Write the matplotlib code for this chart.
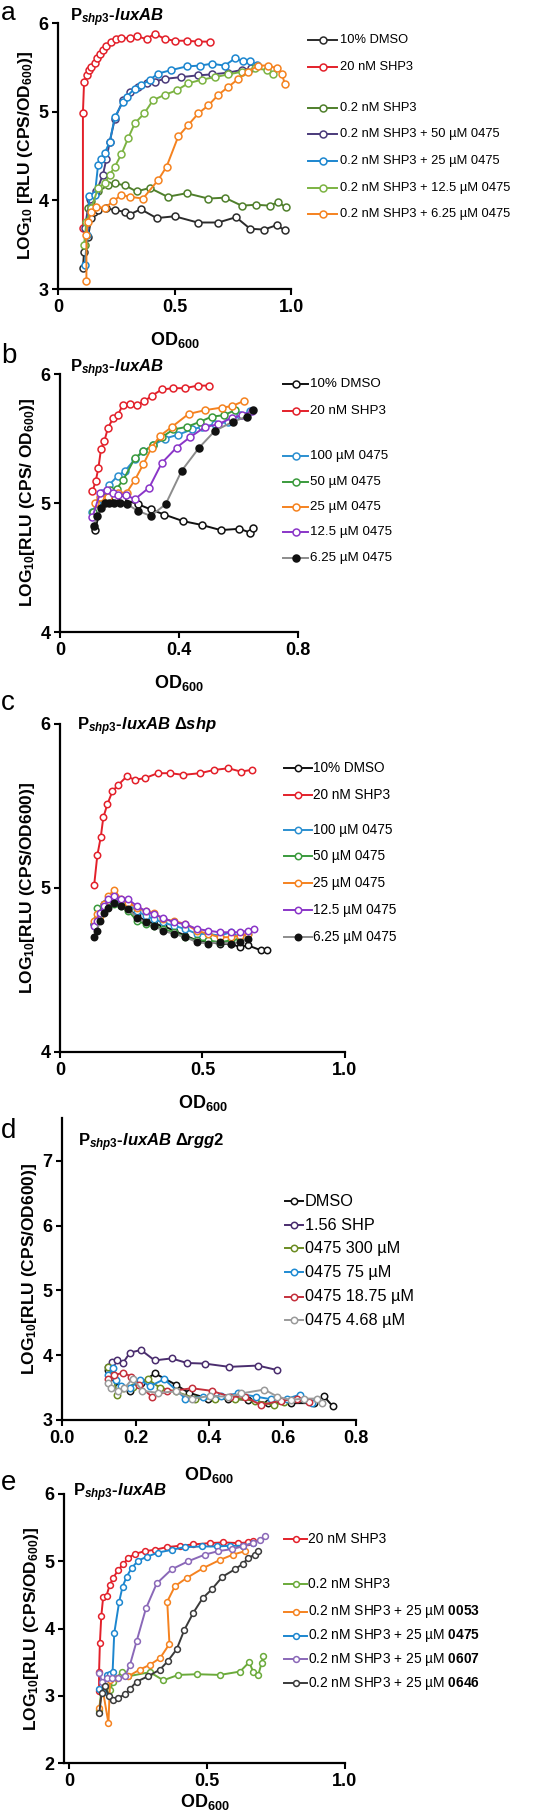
import matplotlib
matplotlib.use("Agg")
import matplotlib.pyplot as plt
from matplotlib.lines import Line2D

plt.rcParams['font.family'] = ['Liberation Sans', 'DejaVu Sans']
plt.rcParams['mathtext.fontset'] = 'custom'
plt.rcParams['mathtext.rm'] = 'Liberation Sans:bold'
plt.rcParams['mathtext.bf'] = 'Liberation Sans:bold'
plt.rcParams['mathtext.it'] = 'Liberation Sans:italic:bold'

W, H = 534, 1814

# ---------------- panel a ----------------
a_dmso_x = [0.107, 0.112, 0.129, 0.143, 0.155, 0.172, 0.208, 0.244, 0.287, 0.308, 0.355, 0.423, 0.501, 0.599, 0.688, 0.764, 0.824, 0.884, 0.938, 0.975]
a_dmso_y = [3.24, 3.42, 3.59, 3.80, 3.87, 3.89, 3.91, 3.89, 3.87, 3.84, 3.90, 3.80, 3.82, 3.75, 3.75, 3.81, 3.68, 3.67, 3.72, 3.66]
a_shp20_x = [0.107, 0.107, 0.112, 0.125, 0.133, 0.143, 0.158, 0.169, 0.179, 0.193, 0.208, 0.226, 0.251, 0.272, 0.308, 0.337, 0.38, 0.415, 0.458, 0.501, 0.552, 0.602, 0.652]
a_shp20_y = [3.69, 4.99, 5.34, 5.41, 5.47, 5.50, 5.55, 5.60, 5.65, 5.70, 5.74, 5.79, 5.82, 5.83, 5.83, 5.85, 5.82, 5.88, 5.82, 5.80, 5.80, 5.79, 5.79]
a_shp02_x = [0.115, 0.129, 0.14, 0.172, 0.215, 0.244, 0.287, 0.337, 0.394, 0.47, 0.552, 0.645, 0.716, 0.788, 0.85, 0.91, 0.946, 0.977]
a_shp02_y = [3.50, 3.91, 3.99, 4.10, 4.17, 4.19, 4.17, 4.10, 4.14, 4.04, 4.08, 4.02, 4.03, 3.94, 3.95, 3.94, 3.98, 3.92]
a_50_x = [0.115, 0.136, 0.165, 0.193, 0.208, 0.222, 0.244, 0.279, 0.308, 0.344, 0.38, 0.415, 0.458, 0.53, 0.602, 0.659, 0.731, 0.788, 0.83]
a_50_y = [3.69, 4.02, 4.10, 4.29, 4.47, 4.66, 4.92, 5.13, 5.22, 5.28, 5.32, 5.34, 5.37, 5.39, 5.41, 5.42, 5.44, 5.47, 5.49]
a_25_x = [0.115, 0.126, 0.135, 0.158, 0.172, 0.186, 0.2, 0.222, 0.244, 0.279, 0.294, 0.33, 0.358, 0.394, 0.43, 0.487, 0.552, 0.609, 0.659, 0.716, 0.759, 0.795, 0.824, 0.852]
a_25_y = [3.27, 3.61, 4.05, 4.06, 4.40, 4.47, 4.53, 4.66, 4.94, 5.11, 5.17, 5.26, 5.30, 5.36, 5.43, 5.47, 5.51, 5.52, 5.54, 5.52, 5.60, 5.57, 5.57, 5.53]
a_12_x = [0.112, 0.122, 0.143, 0.172, 0.2, 0.222, 0.244, 0.272, 0.301, 0.33, 0.37, 0.408, 0.458, 0.509, 0.559, 0.616, 0.673, 0.731, 0.788, 0.845, 0.895, 0.924]
a_12_y = [3.50, 3.76, 3.91, 4.14, 4.19, 4.29, 4.38, 4.52, 4.70, 4.87, 4.98, 5.13, 5.19, 5.24, 5.32, 5.36, 5.39, 5.42, 5.45, 5.49, 5.47, 5.43]
a_6_x = [0.122, 0.122, 0.129, 0.143, 0.165, 0.2, 0.236, 0.272, 0.308, 0.365, 0.43, 0.466, 0.516, 0.559, 0.602, 0.645, 0.688, 0.731, 0.774, 0.817, 0.857, 0.903, 0.938, 0.96, 0.974]
a_6_y = [3.09, 3.61, 3.76, 3.87, 3.93, 3.91, 3.99, 4.06, 4.04, 4.02, 4.23, 4.38, 4.72, 4.85, 4.98, 5.07, 5.19, 5.28, 5.37, 5.45, 5.52, 5.52, 5.49, 5.43, 5.31]
a_labels = ["10% DMSO", "20 nM SHP3", "0.2 nM SHP3", "0.2 nM SHP3 + 50 µM 0475",
            "0.2 nM SHP3 + 25 µM 0475", "0.2 nM SHP3 + 12.5 µM 0475", "0.2 nM SHP3 + 6.25 µM 0475"]

# ---------------- panel b ----------------
b_dmso_x = [0.118, 0.14, 0.16, 0.185, 0.21, 0.263, 0.305, 0.351, 0.413, 0.476, 0.54, 0.603, 0.640, 0.648]
b_dmso_y = [4.79, 5.00, 5.04, 5.05, 5.03, 4.99, 4.95, 4.91, 4.86, 4.83, 4.79, 4.80, 4.77, 4.81]
b_shp20_x = [0.109, 0.12, 0.129, 0.138, 0.149, 0.161, 0.179, 0.194, 0.211, 0.235, 0.258, 0.284, 0.308, 0.342, 0.381, 0.42, 0.463, 0.502]
b_shp20_y = [5.09, 5.17, 5.27, 5.42, 5.48, 5.58, 5.66, 5.68, 5.76, 5.77, 5.76, 5.79, 5.83, 5.88, 5.89, 5.89, 5.91, 5.91]
b_100_x = [0.109, 0.123, 0.14, 0.165, 0.194, 0.219, 0.252, 0.28, 0.314, 0.353, 0.398, 0.443, 0.476, 0.521, 0.566, 0.605, 0.640]
b_100_y = [4.93, 5.00, 5.08, 5.14, 5.21, 5.25, 5.34, 5.40, 5.45, 5.50, 5.53, 5.57, 5.59, 5.61, 5.63, 5.68, 5.71]
b_50_x = [0.112, 0.14, 0.168, 0.19, 0.213, 0.252, 0.28, 0.314, 0.342, 0.381, 0.426, 0.471, 0.51, 0.55, 0.589]
b_50_y = [4.93, 5.05, 5.10, 5.11, 5.18, 5.35, 5.40, 5.45, 5.51, 5.57, 5.59, 5.63, 5.67, 5.68, 5.72]
b_25_x = [0.118, 0.135, 0.163, 0.196, 0.224, 0.252, 0.28, 0.308, 0.336, 0.376, 0.432, 0.488, 0.544, 0.577, 0.617]
b_25_y = [5.00, 5.05, 5.05, 5.08, 5.08, 5.18, 5.30, 5.43, 5.52, 5.59, 5.69, 5.72, 5.74, 5.75, 5.79]
b_12_x = [0.109, 0.135, 0.157, 0.179, 0.196, 0.222, 0.252, 0.30, 0.342, 0.392, 0.437, 0.488, 0.532, 0.577, 0.611, 0.645]
b_12_y = [4.89, 5.08, 5.10, 5.08, 5.06, 5.06, 5.03, 5.12, 5.31, 5.43, 5.51, 5.59, 5.61, 5.66, 5.68, 5.71]
b_6_x = [0.115, 0.123, 0.137, 0.151, 0.165, 0.182, 0.202, 0.226, 0.261, 0.305, 0.355, 0.409, 0.468, 0.521, 0.581, 0.628, 0.65]
b_6_y = [4.82, 4.90, 4.96, 5.00, 5.00, 5.00, 5.00, 4.99, 4.94, 4.90, 4.99, 5.25, 5.43, 5.56, 5.63, 5.67, 5.72]
b_labels = ["10% DMSO", "20 nM SHP3", "100 µM 0475", "50 µM 0475", "25 µM 0475", "12.5 µM 0475", "6.25 µM 0475"]

# ---------------- panel c ----------------
c_shp20_x = [0.12, 0.131, 0.143, 0.152, 0.166, 0.184, 0.205, 0.234, 0.263, 0.298, 0.343, 0.386, 0.433, 0.491, 0.541, 0.591, 0.634, 0.673]
c_shp20_y = [5.02, 5.20, 5.31, 5.43, 5.51, 5.59, 5.63, 5.68, 5.66, 5.67, 5.70, 5.70, 5.69, 5.70, 5.72, 5.73, 5.71, 5.72]
c_dmso_x = [0.12, 0.13, 0.14, 0.155, 0.17, 0.19, 0.215, 0.24, 0.27, 0.30, 0.33, 0.36, 0.40, 0.44, 0.48, 0.52, 0.56, 0.60, 0.63, 0.66, 0.705, 0.725]
c_dmso_y = [4.78, 4.80, 4.85, 4.90, 4.92, 4.91, 4.90, 4.87, 4.83, 4.80, 4.78, 4.77, 4.74, 4.71, 4.68, 4.67, 4.66, 4.66, 4.64, 4.65, 4.62, 4.62]
c_100_x = [0.12, 0.13, 0.14, 0.155, 0.17, 0.19, 0.215, 0.24, 0.27, 0.30, 0.33, 0.36, 0.40, 0.44, 0.48, 0.52, 0.56, 0.60, 0.63, 0.66]
c_100_y = [4.78, 4.82, 4.87, 4.90, 4.92, 4.93, 4.92, 4.90, 4.86, 4.83, 4.81, 4.79, 4.77, 4.75, 4.72, 4.72, 4.71, 4.73, 4.70, 4.72]
c_50_x = [0.12, 0.13, 0.14, 0.155, 0.17, 0.19, 0.215, 0.24, 0.27, 0.30, 0.33, 0.36, 0.40, 0.44, 0.48, 0.52, 0.56, 0.60, 0.63]
c_50_y = [4.78, 4.88, 4.85, 4.88, 4.92, 4.90, 4.89, 4.86, 4.80, 4.78, 4.77, 4.75, 4.73, 4.70, 4.68, 4.68, 4.67, 4.68, 4.69]
c_25_x = [0.12, 0.13, 0.14, 0.155, 0.17, 0.19, 0.215, 0.24, 0.27, 0.30, 0.33, 0.36, 0.40, 0.44, 0.48, 0.52, 0.56, 0.60, 0.63, 0.66]
c_25_y = [4.80, 4.84, 4.83, 4.90, 4.95, 4.99, 4.93, 4.91, 4.88, 4.86, 4.85, 4.81, 4.80, 4.78, 4.74, 4.72, 4.70, 4.70, 4.71, 4.72]
c_12_x = [0.12, 0.13, 0.14, 0.155, 0.17, 0.19, 0.215, 0.24, 0.27, 0.30, 0.33, 0.36, 0.40, 0.44, 0.48, 0.52, 0.56, 0.60, 0.63, 0.66, 0.68]
c_12_y = [4.77, 4.80, 4.85, 4.89, 4.93, 4.95, 4.93, 4.93, 4.89, 4.86, 4.84, 4.82, 4.79, 4.78, 4.75, 4.74, 4.73, 4.73, 4.73, 4.74, 4.75]
c_6_x = [0.12, 0.13, 0.14, 0.155, 0.17, 0.19, 0.215, 0.24, 0.27, 0.30, 0.33, 0.36, 0.40, 0.44, 0.48, 0.52, 0.56, 0.60, 0.63, 0.66]
c_6_y = [4.70, 4.74, 4.80, 4.85, 4.88, 4.91, 4.89, 4.87, 4.82, 4.79, 4.77, 4.74, 4.72, 4.70, 4.67, 4.66, 4.67, 4.66, 4.67, 4.69]
c_labels = b_labels

# ---------------- panel d ----------------
d_dmso_x = [0.125, 0.134, 0.152, 0.184, 0.215, 0.253, 0.311, 0.345, 0.398, 0.452, 0.506, 0.56, 0.622, 0.685, 0.712, 0.737]
d_dmso_y = [3.77, 3.67, 3.51, 3.44, 3.57, 3.72, 3.54, 3.42, 3.33, 3.33, 3.31, 3.26, 3.26, 3.26, 3.37, 3.21]
d_shp_x = [0.125, 0.137, 0.15, 0.166, 0.185, 0.215, 0.252, 0.298, 0.34, 0.389, 0.455, 0.533, 0.586]
d_shp_y = [3.82, 3.90, 3.93, 3.88, 4.04, 4.08, 3.92, 3.95, 3.88, 3.87, 3.82, 3.84, 3.77]
d_300_x = [0.125, 0.139, 0.15, 0.166, 0.192, 0.233, 0.266, 0.309, 0.363, 0.416, 0.47, 0.524, 0.577, 0.604]
d_300_y = [3.82, 3.69, 3.39, 3.50, 3.51, 3.63, 3.50, 3.44, 3.33, 3.33, 3.33, 3.30, 3.23, 3.28]
d_75_x = [0.125, 0.139, 0.148, 0.161, 0.184, 0.212, 0.239, 0.278, 0.336, 0.385, 0.434, 0.479, 0.528, 0.569, 0.613, 0.647, 0.68]
d_75_y = [3.69, 3.80, 3.62, 3.52, 3.49, 3.62, 3.52, 3.63, 3.33, 3.36, 3.37, 3.41, 3.36, 3.32, 3.33, 3.39, 3.26]
d_18_x = [0.125, 0.141, 0.167, 0.188, 0.21, 0.244, 0.286, 0.354, 0.407, 0.457, 0.497, 0.542, 0.595, 0.64, 0.671]
d_18_y = [3.64, 3.69, 3.73, 3.67, 3.54, 3.36, 3.44, 3.49, 3.45, 3.36, 3.36, 3.23, 3.30, 3.32, 3.28]
d_4_x = [0.125, 0.132, 0.152, 0.17, 0.192, 0.219, 0.26, 0.309, 0.354, 0.403, 0.452, 0.488, 0.551, 0.586, 0.622, 0.658, 0.694, 0.707]
d_4_y = [3.57, 3.49, 3.45, 3.49, 3.64, 3.45, 3.42, 3.44, 3.33, 3.37, 3.36, 3.41, 3.47, 3.36, 3.31, 3.33, 3.33, 3.26]
d_labels = ["DMSO", "1.56 SHP", "0475 300 µM", "0475 75 µM", "0475 18.75 µM", "0475 4.68 µM"]

# ---------------- panel e ----------------
e_shp20_x = [0.109, 0.109, 0.112, 0.117, 0.124, 0.136, 0.148, 0.16, 0.178, 0.197, 0.215, 0.239, 0.275, 0.311, 0.354, 0.402, 0.45, 0.511, 0.559, 0.614, 0.65, 0.668]
e_shp20_y = [3.07, 3.35, 3.78, 4.18, 4.47, 4.49, 4.65, 4.75, 4.87, 4.96, 5.05, 5.11, 5.15, 5.17, 5.21, 5.23, 5.25, 5.27, 5.28, 5.27, 5.28, 5.30]
e_shp02_x = [0.109, 0.118, 0.13, 0.149, 0.16, 0.191, 0.215, 0.293, 0.342, 0.396, 0.465, 0.547, 0.62, 0.653, 0.668, 0.686, 0.698, 0.704]
e_shp02_y = [2.79, 3.09, 3.15, 3.09, 3.20, 3.36, 3.29, 3.35, 3.23, 3.31, 3.32, 3.31, 3.36, 3.50, 3.35, 3.31, 3.49, 3.59]
e_0053_x = [0.11, 0.122, 0.143, 0.149, 0.173, 0.215, 0.257, 0.293, 0.33, 0.364, 0.356, 0.384, 0.426, 0.487, 0.547, 0.595, 0.638]
e_0053_y = [2.82, 3.10, 2.59, 3.24, 3.26, 3.29, 3.39, 3.46, 3.56, 3.77, 4.40, 4.63, 4.75, 4.90, 5.02, 5.10, 5.15]
e_0475_x = [0.11, 0.125, 0.136, 0.148, 0.158, 0.164, 0.182, 0.194, 0.209, 0.227, 0.251, 0.284, 0.324, 0.372, 0.42, 0.481, 0.535, 0.583, 0.632, 0.668]
e_0475_y = [3.10, 3.05, 3.31, 3.33, 3.35, 3.93, 4.40, 4.62, 4.77, 4.90, 5.01, 5.07, 5.13, 5.17, 5.21, 5.22, 5.22, 5.23, 5.23, 5.27]
e_0607_x = [0.109, 0.12, 0.136, 0.155, 0.179, 0.203, 0.221, 0.245, 0.279, 0.318, 0.372, 0.432, 0.493, 0.541, 0.589, 0.629, 0.668, 0.692, 0.71]
e_0607_y = [3.34, 3.20, 3.26, 3.26, 3.26, 3.29, 3.46, 3.81, 4.30, 4.67, 4.88, 5.00, 5.10, 5.15, 5.18, 5.22, 5.27, 5.32, 5.37]
e_0646_x = [0.11, 0.118, 0.13, 0.146, 0.161, 0.179, 0.203, 0.221, 0.245, 0.287, 0.33, 0.357, 0.39, 0.418, 0.45, 0.484, 0.517, 0.556, 0.601, 0.629, 0.65, 0.674, 0.686]
e_0646_y = [2.74, 3.04, 3.14, 2.99, 2.94, 2.97, 3.02, 3.10, 3.21, 3.29, 3.39, 3.51, 3.69, 3.98, 4.23, 4.45, 4.58, 4.77, 4.88, 4.96, 5.05, 5.10, 5.15]
e_labels = ["20 nM SHP3", "0.2 nM SHP3", r"0.2 nM SHP3 + 25 µM $\mathbf{0053}$", r"0.2 nM SHP3 + 25 µM $\mathbf{0475}$",
            r"0.2 nM SHP3 + 25 µM $\mathbf{0607}$", r"0.2 nM SHP3 + 25 µM $\mathbf{0646}$"]

BLACK = "#2b2b2b"
RED = "#e3202a"
BLUE = "#1c86cf"
ORANGE = "#f5821f"


def px_axes(fig, l, r, t, b):
    return fig.add_axes([l / W, 1 - b / H, (r - l) / W, (b - t) / H])


def style_axes(ax, xlim, ylim, xticks, xticklabels, yticks):
    ax.set_xlim(*xlim)
    ax.set_ylim(*ylim)
    ax.set_xticks(xticks)
    ax.set_xticklabels(xticklabels)
    ax.set_yticks(yticks)
    for s in ["top", "right"]:
        ax.spines[s].set_visible(False)
    for s in ["left", "bottom"]:
        ax.spines[s].set_linewidth(1.6)
    ax.tick_params(width=1.5, length=4, labelsize=13, pad=3)
    for lab in ax.get_xticklabels() + ax.get_yticklabels():
        lab.set_fontweight("bold")


def plot_series(ax, x, y, line_color, edge, face, ms=5.0):
    ax.plot(x, y, color=line_color, lw=1.4, marker="o", ms=ms, mfc=face, mec=edge, mew=1.1, clip_on=False)


def legend_rows(fig, rows, x0, x1, xt, ys, fs, ms=5.0):
    for (label, line_color, edge, face), y in zip(rows, ys):
        fy = 1 - y / H
        fig.add_artist(Line2D([x0 / W, x1 / W], [fy, fy], color=line_color, lw=1.4))
        fig.add_artist(Line2D([(x0 + x1) / 2 / W], [fy], marker="o", ms=ms, mfc=face, mec=edge, mew=1.1))
        fig.text(xt / W, fy, label, va="center", ha="left", fontsize=fs)


def main():
    fig = plt.figure(figsize=(W / 100, H / 100), dpi=100)

    # ---- a ----
    ax = px_axes(fig, 58, 291, 23, 289)
    a_series = [
        (a_dmso_x, a_dmso_y, BLACK, BLACK, "white"),
        (a_shp20_x, a_shp20_y, RED, RED, "white"),
        (a_shp02_x, a_shp02_y, "#4f7f2b", "#4f7f2b", "white"),
        (a_50_x, a_50_y, "#4a3a7a", "#4a3a7a", "white"),
        (a_25_x, a_25_y, BLUE, BLUE, "white"),
        (a_12_x, a_12_y, "#7cb342", "#7cb342", "white"),
        (a_6_x, a_6_y, ORANGE, ORANGE, "white"),
    ]
    for x, y, lc, ec, fc in a_series:
        plot_series(ax, x, y, lc, ec, fc)
    style_axes(ax, (0, 1.0), (3, 6), [0, 0.5, 1.0], ["0", "0.5", "1.0"], [3, 4, 5, 6])
    ax.set_ylabel(r"LOG$_{10}$ [RLU (CPS/OD$_{600}$)]", fontsize=12.5, fontweight="bold", labelpad=2)
    ax.set_xlabel(r"OD$_{600}$", fontsize=13, fontweight="bold", labelpad=10)
    legend_rows(fig, [(l, s[2], s[3], s[4]) for l, s in zip(a_labels, a_series)],
                308, 337, 340, [40, 67, 108, 134, 161, 188, 214], 9.3)

    # ---- b ----
    ax = px_axes(fig, 60, 298, 374, 632)
    b_series = [
        (b_dmso_x, b_dmso_y, "#111111", "#111111", "white"),
        (b_shp20_x, b_shp20_y, RED, RED, "white"),
        (b_100_x, b_100_y, "#2b8fd0", "#2b8fd0", "white"),
        (b_50_x, b_50_y, "#3a9a3c", "#3a9a3c", "white"),
        (b_25_x, b_25_y, ORANGE, ORANGE, "white"),
        (b_12_x, b_12_y, "#8a35c8", "#8a35c8", "white"),
        (b_6_x, b_6_y, "#8c8c8c", "#111111", "#111111"),
    ]
    for x, y, lc, ec, fc in b_series:
        plot_series(ax, x, y, lc, ec, fc)
    style_axes(ax, (0, 0.8), (4, 6), [0, 0.4, 0.8], ["0", "0.4", "0.8"], [4, 5, 6])
    ax.set_ylabel(r"LOG$_{10}$[RLU (CPS/ OD$_{600}$)]", fontsize=12.5, fontweight="bold", labelpad=2)
    ax.set_xlabel(r"OD$_{600}$", fontsize=13, fontweight="bold", labelpad=10)
    legend_rows(fig, [(l, s[2], s[3], s[4]) for l, s in zip(b_labels, b_series)],
                283, 308, 310, [384, 411, 456, 482, 507, 532, 558], 9.6)

    # ---- c ----
    ax = px_axes(fig, 60, 345, 724, 1052)
    c_series = [
        (c_dmso_x, c_dmso_y, "#111111", "#111111", "white"),
        (c_shp20_x, c_shp20_y, RED, RED, "white"),
        (c_100_x, c_100_y, "#2b8fd0", "#2b8fd0", "white"),
        (c_50_x, c_50_y, "#3a9a3c", "#3a9a3c", "white"),
        (c_25_x, c_25_y, ORANGE, ORANGE, "white"),
        (c_12_x, c_12_y, "#8a35c8", "#8a35c8", "white"),
        (c_6_x, c_6_y, "#8c8c8c", "#111111", "#111111"),
    ]
    for x, y, lc, ec, fc in c_series:
        plot_series(ax, x, y, lc, ec, fc, ms=4.6)
    style_axes(ax, (0, 1.0), (4, 6), [0, 0.5, 1.0], ["0", "0.5", "1.0"], [4, 5, 6])
    ax.set_ylabel(r"LOG$_{10}$[RLU (CPS/OD600)]", fontsize=12.5, fontweight="bold", labelpad=2)
    ax.set_xlabel(r"OD$_{600}$", fontsize=13, fontweight="bold", labelpad=10)
    legend_rows(fig, [(l, s[2], s[3], s[4]) for l, s in zip(c_labels, c_series)],
                284, 312, 313, [768, 795, 830, 856, 883, 910, 937], 9.8, ms=4.6)

    # ---- d ----
    ax = px_axes(fig, 62, 356, 1118, 1420)
    d_series = [
        (d_dmso_x, d_dmso_y, "#111111", "#111111", "white"),
        (d_shp_x, d_shp_y, "#4a2d6e", "#4a2d6e", "white"),
        (d_300_x, d_300_y, "#6b8c22", "#6b8c22", "white"),
        (d_75_x, d_75_y, "#1e8ad2", "#1e8ad2", "white"),
        (d_18_x, d_18_y, "#c4303c", "#c4303c", "white"),
        (d_4_x, d_4_y, "#9a9a9a", "#9a9a9a", "white"),
    ]
    for x, y, lc, ec, fc in d_series:
        plot_series(ax, x, y, lc, ec, fc, ms=4.6)
    style_axes(ax, (0, 0.8), (3, 7.66), [0, 0.2, 0.4, 0.6, 0.8], ["0.0", "0.2", "0.4", "0.6", "0.8"], [3, 4, 5, 6, 7])
    ax.set_ylabel(r"LOG$_{10}$[RLU (CPS/OD600)]", fontsize=12.5, fontweight="bold", labelpad=2)
    ax.set_xlabel(r"OD$_{600}$", fontsize=13, fontweight="bold", labelpad=13)
    legend_rows(fig, [(l, s[2], s[3], s[4]) for l, s in zip(d_labels, d_series)],
                285, 303, 305, [1201, 1225, 1248, 1272, 1297, 1320], 11.7, ms=4.6)

    # ---- e ----
    ax = px_axes(fig, 64, 345, 1494, 1763)
    e_series = [
        (e_shp20_x, e_shp20_y, RED, RED, "white"),
        (e_shp02_x, e_shp02_y, "#6aaa3a", "#6aaa3a", "white"),
        (e_0053_x, e_0053_y, ORANGE, ORANGE, "white"),
        (e_0475_x, e_0475_y, BLUE, BLUE, "white"),
        (e_0607_x, e_0607_y, "#8a68b8", "#8a68b8", "white"),
        (e_0646_x, e_0646_y, "#3a3a3a", "#3a3a3a", "white"),
    ]
    for x, y, lc, ec, fc in e_series:
        plot_series(ax, x, y, lc, ec, fc, ms=4.2)
    style_axes(ax, (-0.018, 1.0), (2, 6), [0, 0.5, 1.0], ["0", "0.5", "1.0"], [2, 3, 4, 5, 6])
    ax.set_ylabel(r"LOG$_{10}$[RLU (CPS/OD$_{600}$)]", fontsize=12.5, fontweight="bold", labelpad=2)
    ax.set_xlabel(r"OD$_{600}$", fontsize=13, fontweight="bold", labelpad=2)
    legend_rows(fig, [(l, s[2], s[3], s[4]) for l, s in zip(e_labels, e_series)],
                284, 307, 308, [1539, 1584, 1612, 1636, 1659, 1683], 9.9, ms=4.2)

    # strain titles
    title = r"$\mathrm{P}_{shp3}$-$luxAB$"
    fig.text(70 / W, 1 - 18 / H, title, fontsize=12, fontweight="bold", va="center")
    fig.text(70 / W, 1 - 369 / H, title, fontsize=12, fontweight="bold", va="center")
    fig.text(77 / W, 1 - 727 / H, title + r" Δ$shp$", fontsize=12, fontweight="bold", va="center")
    fig.text(78 / W, 1 - 1143 / H, title + r" Δ$rgg2$", fontsize=12, fontweight="bold", va="center")
    fig.text(73 / W, 1 - 1493 / H, title, fontsize=12, fontweight="bold", va="center")

    # panel letters
    fig.text(1 / W, 1 - 1 / H, "a", fontsize=19, va="top", ha="left")
    for letter, y in zip(["b", "c", "d", "e"], [363, 710, 1138, 1490]):
        fig.text(1 / W, 1 - y / H, letter, fontsize=20, va="baseline", ha="left")

    fig.savefig("out.png", dpi=100)


if __name__ == "__main__":
    main()
